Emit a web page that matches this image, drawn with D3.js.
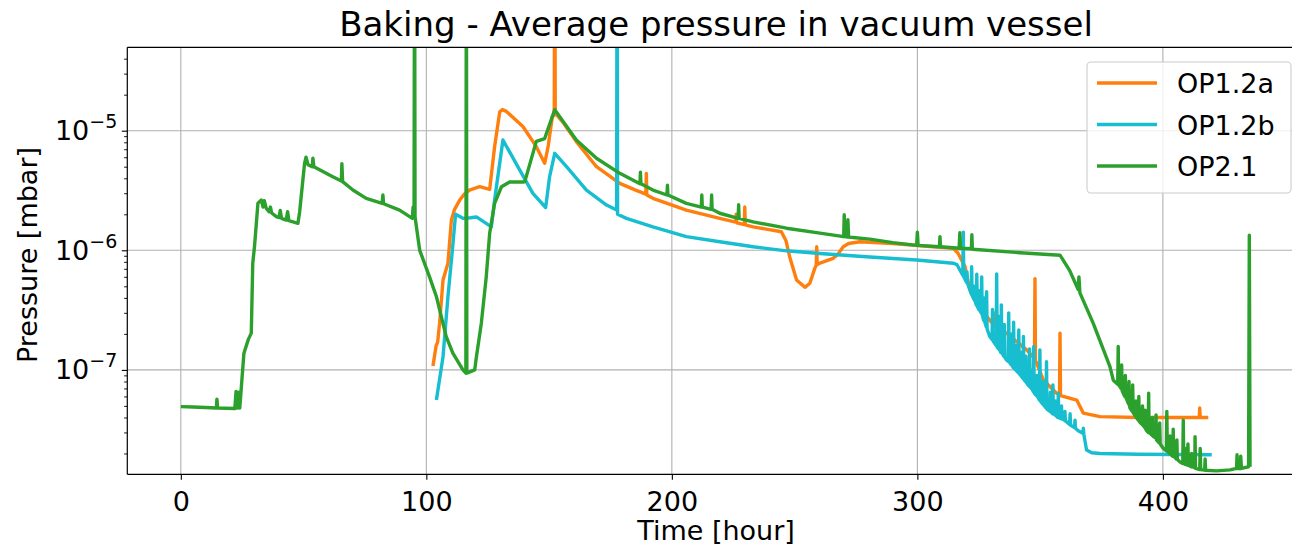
<!DOCTYPE html>
<html>
<head>
<meta charset="utf-8">
<script src="https://cdn.jsdelivr.net/npm/d3@7"></script>
<style>
  html, body { margin: 0; padding: 0; background: #ffffff; }
  svg { display: block; font-family: "DejaVu Sans", sans-serif; }
</style>
</head>
<body>
<svg id="chart" width="1292" height="545"></svg>
<script>
// ---------------- data (hour, mbar) ----------------
const seriesNames = ["OP1.2a", "OP1.2b", "OP2.1"];
const seriesColors = ["#ff7f0e", "#17becf", "#2ca02c"];
const xTicks = [0, 100, 200, 300, 400];
const yTicks = [1e-7, 1e-6, 1e-5];
const yTickExponents = ["\u22127", "\u22126", "\u22125"];
const titleText = "Baking - Average pressure in vacuum vessel";
const xLabel = "Time [hour]";
const yLabel = "Pressure [mbar]";
const xDomain = [-21.8, 457.8];
const yDomain = [1.34e-8, 4.98e-5];

const op12a = [
  [102.7,1.08e-7],[104,1.6e-7],[104.6,1.7e-7],[105.4,2.46e-7],[106.8,5.65e-7],[108.8,7.8e-7],
  [110.2,1.79e-6],[111.5,2.2e-6],[113.6,2.63e-6],[115.5,2.95e-6],[117.6,3.19e-6],[121.7,3.4e-6],
  [125.8,3.23e-6],[127.8,7.34e-6],[129.9,1.44e-5],[131,1.5e-5],[132.6,1.45e-5],[138,1.15e-5],
  [139.4,1.08e-5],[144.8,7.35e-6],[148.2,5.34e-6],[149.6,7.35e-6],[151.3,1.31e-5],[152.1,1.35e-5],
  [152.3,1e-3],[152.5,1.4e-5],[156,1.15e-5],[161.1,8.1e-6],[169.3,5.0e-6],[178.8,3.63e-6],
  [185,3.2e-6],[189.4,2.95e-6],[189.6,4.4e-6],[189.8,2.9e-6],[192.3,2.72e-6],[205.9,2.17e-6],
  [219.5,1.85e-6],[226,1.72e-6],[226.2,2.0e-6],[226.4,1.7e-6],[229.5,1.64e-6],[229.7,2.3e-6],
  [229.9,1.63e-6],[233.1,1.57e-6],[244.6,1.43e-6],[246.5,1.2e-6],[248,8.8e-7],[250.8,5.65e-7],
  [254.2,4.9e-7],[256.2,5.3e-7],[258.2,7.06e-7],[258.8,7.5e-7],[259,1.07e-6],[259.2,7.6e-7],
  [260.3,7.8e-7],[265.7,8.57e-7],[267.5,9.2e-7],[269.8,1.07e-6],[272,1.14e-6],[276.6,1.18e-6],
  [290,1.14e-6],[306.4,1.07e-6],[314.6,1.04e-6],[316.5,9.5e-7],[319.4,7.3e-7],[321.4,4.66e-7],
  [324.1,3.6e-7],[325,3.4e-7],[325.2,4.2e-7],[325.4,3.35e-7],[329.5,2.6e-7],[331,2.4e-7],
  [331.2,3.0e-7],[331.4,2.35e-7],[336.3,2.03e-7],[344.5,1.47e-7],[347.7,1.25e-7],[347.9,5.8e-7],
  [348.1,1.2e-7],[351.3,8.24e-8],[356.7,6.38e-8],[357.9,6.2e-8],[358.1,2.03e-7],[358.3,6.1e-8],
  [364.9,5.6e-8],[367.6,4.35e-8],[374.4,4.07e-8],[390,4.0e-8],[405,4.0e-8],[414.8,4.0e-8],
  [415,4.8e-8],[415.2,4.0e-8],[418.5,4.0e-8]
];

const op12b = [
  [104.1,5.6e-8],[106.8,1.29e-7],[108.8,4.1e-7],[110.6,1.0e-6],[111.9,2.0e-6],[114.9,1.85e-6],
  [118,1.87e-6],[120.4,1.9e-6],[126.5,1.57e-6],[127.8,2.63e-6],[131.2,8.36e-6],[138,4.7e-6],
  [143.4,2.99e-6],[148.6,2.28e-6],[150.2,4.12e-6],[152.3,6.47e-6],[157.1,5.0e-6],[165.2,3.19e-6],
  [173.4,2.39e-6],[177.5,2.17e-6],[177.7,1e-3],[177.9,2.0e-6],[181.5,1.85e-6],[192.3,1.57e-6],
  [205.9,1.3e-6],[219.5,1.18e-6],[233.1,1.07e-6],[246.7,9.9e-7],[260.3,9.4e-7],[280.6,8.8e-7],
  [299.7,8.3e-7],[314.6,7.8e-7],[316.1,7.6e-7],[317.3,6.85e-7],[318.5,6.2e-7],[318.7,1.42e-6],
  [318.9,6.0e-7],[320,5.4e-7],[320.2,6.6e-7],[320.4,5.3e-7],[321.4,4.66e-7],[322,4.3e-7],
  [322.1,7.3e-7],[322.3,4.2e-7],[323,3.9e-7],[323.2,5.0e-7],[323.4,3.8e-7],[324,3.5e-7],
  [324.2,6.3e-7],[324.4,3.4e-7],[325,3.2e-7],[325.2,4.6e-7],[325.4,3.15e-7],[326,3.0e-7],
  [326.2,6.0e-7],[326.4,2.9e-7],[327,2.6e-7],[327.2,4.0e-7],[327.4,2.55e-7],[328,2.3e-7],
  [328.2,4.5e-7],[328.4,2.2e-7],[329.5,1.9e-7],[330.4,1.8e-7],[330.6,3.2e-7],[330.8,1.75e-7],
  [332.1,1.6e-7],[332.3,6.35e-7],[332.5,1.55e-7],[333,1.5e-7],[333.2,2.8e-7],[333.4,1.48e-7],
  [334,1.4e-7],[334.2,3.5e-7],[334.4,1.4e-7],[335.2,1.3e-7],[335.4,2.4e-7],[335.6,1.28e-7],
  [336.3,1.21e-7],[337,1.18e-7],[337.2,3.0e-7],[337.4,1.17e-7],[338,1.12e-7],[338.2,2.0e-7],
  [338.4,1.1e-7],[339,1.05e-7],[339.2,2.5e-7],[339.4,1.03e-7],[340,1.0e-7],[340.2,1.6e-7],
  [340.4,9.8e-8],[341.1,9.5e-8],[341.3,2.16e-7],[341.5,9.3e-8],[342,9.0e-8],[342.2,1.4e-7],
  [342.4,8.8e-8],[343,8.5e-8],[343.2,1.9e-7],[343.4,8.3e-8],[344,8.0e-8],[344.2,1.3e-7],
  [344.4,7.8e-8],[345.5,7.3e-8],[345.7,1.5e-7],[345.9,7.2e-8],[346.5,7.0e-8],[346.7,1.0e-7],
  [346.9,6.8e-8],[347.2,6.6e-8],[347.4,1.57e-7],[347.6,6.4e-8],[348.5,6.1e-8],[348.7,9.0e-8],
  [348.9,6.0e-8],[349.7,5.6e-8],[349.9,1.47e-7],[350.1,5.5e-8],[351,5.2e-8],[351.2,8.0e-8],
  [351.4,5.1e-8],[352.4,4.8e-8],[352.6,1.17e-7],[352.8,4.7e-8],[354,4.5e-8],[354.2,6.5e-8],
  [354.4,4.45e-8],[355,4.3e-8],[355.2,7.5e-8],[355.4,4.3e-8],[356,4.2e-8],[356.2,5.5e-8],
  [356.4,4.15e-8],[357.2,4.0e-8],[357.4,6.4e-8],[357.6,4.0e-8],[358.5,3.9e-8],[358.7,5.0e-8],
  [358.9,3.9e-8],[359.9,3.8e-8],[360.1,4.5e-8],[360.3,3.75e-8],[362,3.5e-8],[362.2,4.3e-8],
  [362.4,3.45e-8],[364,3.3e-8],[364.2,3.8e-8],[364.4,3.25e-8],[365.5,3.1e-8],[367.4,2.95e-8],
  [367.6,3.25e-8],[367.8,2.9e-8],[368.9,2.14e-8],[371,2.03e-8],[374.4,2.0e-8],[390,1.97e-8],
  [419.9,1.95e-8]
];

const op21 = [
  [0,4.93e-8],[5,4.9e-8],[10,4.85e-8],[14.5,4.8e-8],[14.7,5.7e-8],[15,4.8e-8],[22,4.75e-8],
  [22.5,6.6e-8],[23,4.8e-8],[23.5,6.5e-8],[24,4.8e-8],[25.7,1.38e-7],[27.5,1.8e-7],[28.7,2.03e-7],
  [29.3,7.8e-7],[30,1.07e-6],[31.4,2.47e-6],[32.8,2.63e-6],[33.5,2.3e-6],[34,2.6e-6],[34.8,2.24e-6],
  [36,2.1e-6],[36.5,2.3e-6],[37,2.05e-6],[38.9,1.91e-6],[40,1.88e-6],[40.5,2.15e-6],[41,1.85e-6],
  [42.9,1.79e-6],[43.5,2.1e-6],[44,1.77e-6],[47.7,1.68e-6],[48.4,2.1e-6],[50.4,5.33e-6],[51,6.0e-6],
  [51.8,5.2e-6],[53.5,5.0e-6],[53.8,5.9e-6],[54.2,5.0e-6],[61.9,4.12e-6],[65.4,3.8e-6],[65.6,5.3e-6],
  [65.9,3.75e-6],[70.1,3.19e-6],[75.5,2.72e-6],[82,2.47e-6],[82.3,2.9e-6],[82.6,2.45e-6],
  [89.1,2.17e-6],[94.3,1.85e-6],[94.6,2.3e-6],[95,1.9e-6],[95.2,1e-3],[95.4,1.9e-6],[97.3,1.0e-6],
  [101.3,6.0e-7],[104.1,4.1e-7],[108.1,1.9e-7],[110.8,1.38e-7],[114.9,1.0e-7],[116.1,9.4e-8],
  [116.3,1e-3],[116.5,9.4e-8],[119.7,1.0e-7],[120.4,1.29e-7],[122.4,2.46e-7],[124.4,6.0e-7],
  [125.8,1.39e-6],[127.8,2.47e-6],[130.6,3.4e-6],[133.9,3.72e-6],[139.4,3.72e-6],[140.1,3.75e-6],
  [144.8,8.14e-6],[148.2,8.6e-6],[152.3,1.5e-5],[161.1,8.36e-6],[169.3,5.88e-6],[178.8,4.4e-6],
  [187,3.6e-6],[187.2,4.5e-6],[187.4,3.6e-6],[192.3,3.19e-6],[198,2.9e-6],[198.2,3.5e-6],
  [198.4,2.9e-6],[205.9,2.47e-6],[212,2.3e-6],[212.2,2.9e-6],[212.4,2.3e-6],[216,2.2e-6],
  [216.2,2.9e-6],[216.4,2.2e-6],[219.5,2.04e-6],[227,1.85e-6],[227.2,2.4e-6],[227.4,1.85e-6],
  [233.1,1.73e-6],[246.7,1.53e-6],[260.3,1.39e-6],[270,1.3e-6],[270.2,1.98e-6],[270.5,1.3e-6],
  [271.5,1.29e-6],[271.7,1.8e-6],[272,1.29e-6],[273.8,1.28e-6],[280.6,1.24e-6],[290,1.16e-6],
  [299.7,1.1e-6],[300,1.42e-6],[300.3,1.1e-6],[309,1.07e-6],[309.2,1.3e-6],[309.4,1.07e-6],
  [317,1.04e-6],[317.3,1.4e-6],[317.6,1.04e-6],[322,1.03e-6],[322.2,1.35e-6],[322.4,1.02e-6],
  [340,9.6e-7],[358.1,9.1e-7],[362,6.8e-7],[365.5,4.7e-7],[365.8,6.0e-7],[366.2,4.4e-7],
  [371.6,2.46e-7],[378.4,1.07e-7],[379.8,8.2e-8],[381.6,7.6e-8],[381.8,1.57e-7],[382,7.5e-8],
  [383,7.0e-8],[383.2,1.1e-7],[383.4,6.7e-8],[384.5,6.0e-8],[384.7,9.0e-8],[384.9,5.9e-8],
  [386,5.2e-8],[386.2,8.0e-8],[386.4,5.0e-8],[386.6,4.8e-8],[387.5,4.5e-8],[387.7,7.5e-8],
  [387.9,4.4e-8],[388.8,4.1e-8],[389,5.5e-8],[389.2,4.0e-8],[390,3.8e-8],[390.2,6.0e-8],
  [390.4,3.7e-8],[391.5,3.5e-8],[391.7,5.0e-8],[391.9,3.45e-8],[392.6,3.3e-8],[392.8,4.6e-8],
  [393,3.2e-8],[393.4,3.1e-8],[394,3.0e-8],[394.2,6.4e-8],[394.4,3.0e-8],[395.5,2.85e-8],
  [395.7,4.0e-8],[395.9,2.8e-8],[397,2.7e-8],[397.2,4.2e-8],[397.4,2.6e-8],[398.5,2.45e-8],
  [398.7,3.6e-8],[398.9,2.4e-8],[400.2,2.2e-8],[401.4,2.1e-8],[401.6,4.5e-8],[401.8,2.1e-8],
  [402.7,2.0e-8],[402.9,2.8e-8],[403.1,1.98e-8],[404,1.9e-8],[404.2,3.2e-8],[404.4,1.9e-8],
  [405.5,1.8e-8],[405.7,2.6e-8],[405.9,1.78e-8],[407,1.7e-8],[408.1,1.65e-8],[408.3,3.8e-8],
  [408.5,1.65e-8],[409.2,1.62e-8],[409.4,2.2e-8],[409.6,1.62e-8],[410,1.6e-8],[410.2,2.4e-8],
  [410.4,1.6e-8],[411.5,1.55e-8],[411.7,2.0e-8],[411.9,1.55e-8],[413,1.52e-8],[413.1,2.77e-8],
  [413.3,1.5e-8],[415,1.47e-8],[415.2,2.2e-8],[415.4,1.47e-8],[417,1.45e-8],[417.2,1.8e-8],
  [417.4,1.45e-8],[421.9,1.43e-8],[427.4,1.46e-8],[430,1.5e-8],[430.2,1.95e-8],[430.4,1.5e-8],
  [431.5,1.5e-8],[431.7,1.9e-8],[432,1.5e-8],[434.9,1.55e-8],[435.2,1.34e-6],[435.5,1.55e-8]
];

const allSeries = [op12a, op12b, op21];

// ---------------- layout ----------------
const svg = d3.select("#chart");
const plot = { left: 127.3, top: 47.3, right: 1304.8, bottom: 474.3 };
const fontBase = 27;

const x = d3.scaleLinear().domain(xDomain).range([plot.left, plot.right]);
const y = d3.scaleLog().domain(yDomain).range([plot.bottom, plot.top]);

svg.append("defs").append("clipPath").attr("id", "clip")
  .append("rect").attr("x", plot.left).attr("y", plot.top)
  .attr("width", plot.right - plot.left).attr("height", plot.bottom - plot.top);

// grid
const grid = svg.append("g");
xTicks.forEach(t => {
  grid.append("line").attr("x1", x(t)).attr("x2", x(t))
    .attr("y1", plot.top).attr("y2", plot.bottom)
    .attr("stroke", "#b0b0b0").attr("stroke-width", 1.1);
});
yTicks.forEach(t => {
  grid.append("line").attr("x1", plot.left).attr("x2", plot.right)
    .attr("y1", y(t)).attr("y2", y(t))
    .attr("stroke", "#b0b0b0").attr("stroke-width", 1.1);
});

// lines
const line = d3.line().x(d => x(d[0])).y(d => y(d[1]));
const lines = svg.append("g").attr("clip-path", "url(#clip)");
allSeries.forEach((s, i) => {
  lines.append("path").datum(s).attr("d", line)
    .attr("fill", "none").attr("stroke", seriesColors[i])
    .attr("stroke-width", 3.4).attr("stroke-linejoin", "round").attr("stroke-linecap", "butt");
});

// x axis
const xAxis = d3.axisBottom(x).tickValues(xTicks).tickSize(5.5).tickPadding(6).tickFormat(d3.format("d"));
const gx = svg.append("g").attr("transform", `translate(0,${plot.bottom})`).call(xAxis);
gx.select(".domain").remove();
gx.selectAll(".tick line").attr("stroke", "#000").attr("stroke-width", 1.1);
gx.selectAll(".tick text").attr("font-size", fontBase).attr("fill", "#000")
  .attr("font-family", "DejaVu Sans").attr("dy", "0.95em");

// y axis minor ticks
const minorVals = [];
for (let e = -9; e <= -4; e++) {
  for (let m = 2; m <= 9; m++) {
    const v = m * Math.pow(10, e);
    if (v >= yDomain[0] && v <= yDomain[1]) minorVals.push(v);
  }
}
const gyMinor = svg.append("g").attr("transform", `translate(${plot.left},0)`)
  .call(d3.axisLeft(y).tickValues(minorVals).tickSize(3.2).tickFormat(""));
gyMinor.select(".domain").remove();
gyMinor.selectAll(".tick line").attr("stroke", "#000").attr("stroke-width", 0.9);

const gy = svg.append("g").attr("transform", `translate(${plot.left},0)`)
  .call(d3.axisLeft(y).tickValues(yTicks).tickSize(5.5).tickFormat(""));
gy.select(".domain").remove();
gy.selectAll(".tick line").attr("stroke", "#000").attr("stroke-width", 1.1);
yTicks.forEach((t, i) => {
  const tx = svg.append("text").attr("x", plot.left - 10).attr("y", y(t) + 9.6)
    .attr("text-anchor", "end").attr("font-size", fontBase).attr("fill", "#000");
  tx.append("tspan").text("10");
  tx.append("tspan").attr("font-size", 19).attr("dy", -12).text(yTickExponents[i]);
});

// spines
const sp = svg.append("g").attr("stroke", "#000").attr("stroke-width", 1.2).attr("fill", "none");
sp.append("line").attr("x1", plot.left).attr("x2", plot.left).attr("y1", plot.top).attr("y2", plot.bottom);
sp.append("line").attr("x1", plot.left).attr("x2", plot.right).attr("y1", plot.bottom).attr("y2", plot.bottom);
sp.append("line").attr("x1", plot.left).attr("x2", plot.right).attr("y1", plot.top).attr("y2", plot.top);
sp.append("line").attr("x1", plot.right).attr("x2", plot.right).attr("y1", plot.top).attr("y2", plot.bottom);

// labels
svg.append("text").attr("x", (plot.left + plot.right) / 2).attr("y", 36)
  .attr("text-anchor", "middle").attr("font-size", 34).attr("fill", "#000").text(titleText);
svg.append("text").attr("x", (plot.left + plot.right) / 2).attr("y", 540)
  .attr("text-anchor", "middle").attr("font-size", fontBase).attr("fill", "#000").text(xLabel);
svg.append("text").attr("transform", `translate(37,255) rotate(-90)`)
  .attr("text-anchor", "middle").attr("font-size", fontBase).attr("fill", "#000").text(yLabel);

// legend
const lg = svg.append("g");
lg.append("rect").attr("x", 1087).attr("y", 62).attr("width", 204).attr("height", 131)
  .attr("rx", 4).attr("fill", "#ffffff").attr("fill-opacity", 0.8)
  .attr("stroke", "#cccccc").attr("stroke-width", 1.1);
seriesNames.forEach((n, i) => {
  const ly = 83 + i * 41.5;
  lg.append("line").attr("x1", 1097).attr("x2", 1157).attr("y1", ly).attr("y2", ly)
    .attr("stroke", seriesColors[i]).attr("stroke-width", 3.4);
  lg.append("text").attr("x", 1177).attr("y", ly + 10).attr("font-size", fontBase)
    .attr("fill", "#000").text(n);
});
</script>
</body>
</html>
